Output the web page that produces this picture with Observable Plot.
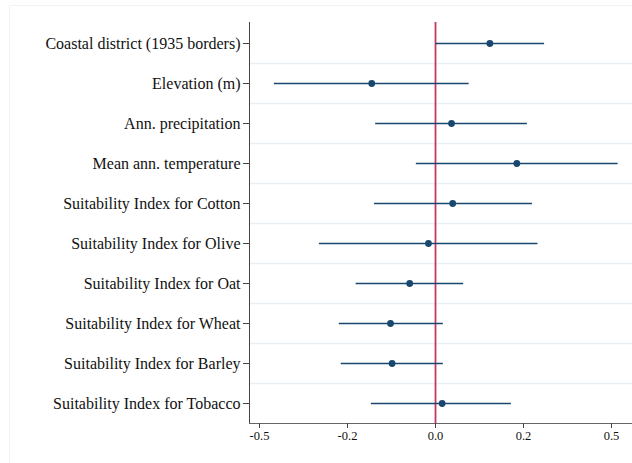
<!DOCTYPE html>
<html>
<head>
<meta charset="utf-8">
<script src="https://cdn.jsdelivr.net/npm/d3@7"></script>
<script src="https://cdn.jsdelivr.net/npm/@observablehq/plot@0.6"></script>
<style>
  html, body { margin: 0; padding: 0; background: #fff; }
  #wrap { position: relative; width: 632px; height: 463px; overflow: hidden; }
  #border { position: absolute; left: 9px; top: 5px; width: 640px; height: 470px; border: 1.5px solid #eef3f3; box-sizing: border-box; }
  #chart { position: absolute; left: 0; top: 0; }
</style>
</head>
<body>
<div id="wrap"><div id="border"></div><div id="chart"></div></div>
<script>
const variables = [
  "Coastal district (1935 borders)",
  "Elevation (m)",
  "Ann. precipitation",
  "Mean ann. temperature",
  "Suitability Index for Cotton",
  "Suitability Index for Olive",
  "Suitability Index for Oat",
  "Suitability Index for Wheat",
  "Suitability Index for Barley",
  "Suitability Index for Tobacco"
];
const estimates = [0.139, -0.163, 0.041, 0.208, 0.044, -0.018, -0.066, -0.115, -0.111, 0.017];
const ciLow  = [0.001, -0.412, -0.153, -0.049, -0.156, -0.297, -0.203, -0.246, -0.241, -0.164];
const ciHigh = [0.279, 0.086, 0.235, 0.467, 0.248, 0.262, 0.072, 0.020, 0.020, 0.194];
const tickValues = [-0.45, -0.225, 0, 0.225, 0.45];
const tickLabels = ["-0.5", "-0.2", "0.0", "0.2", "0.5"];
const xDomain = [-0.4756, 0.5037];

const data = variables.map((v, i) => ({name: v, est: estimates[i], lo: ciLow[i], hi: ciHigh[i]}));

const W = 632, H = 463, mt = 22, mb = 40, ml = 249, mr = 0;
const step = (H - mt - mb) / variables.length;
const labelOf = new Map(tickValues.map((t, i) => [t, tickLabels[i]]));

const navy = "#1a476f";
const chart = Plot.plot({
  width: W, height: H,
  marginTop: mt, marginBottom: mb, marginLeft: ml, marginRight: mr,
  style: {fontFamily: "'Liberation Serif', 'Times New Roman', serif", background: "transparent", color: "#111"},
  x: {domain: xDomain},
  y: {type: "band", domain: variables, padding: 0},
  marks: [
    Plot.ruleY(variables.slice(1), {y: d => d, dy: -step / 2, stroke: "#e9eff2", strokeWidth: 1.6}),
    Plot.ruleX([0], {stroke: "#c8375e", strokeWidth: 1.8}),
    Plot.ruleY(data, {y: "name", x1: "lo", x2: "hi", stroke: navy, strokeWidth: 1.4}),
    Plot.dot(data, {y: "name", x: "est", r: 3.4, fill: navy, stroke: "none"}),
    Plot.ruleX([xDomain[0]], {stroke: "#444", strokeWidth: 1}),
    Plot.frame({anchor: "bottom", stroke: "#666", strokeWidth: 1}),
    Plot.axisX({ticks: tickValues, tickFormat: d => labelOf.get(d), tickSize: 5, tickPadding: 3, fontSize: 12.5, label: null, stroke: "#444"}),
    Plot.axisY({tickSize: 6, tickPadding: 3, fontSize: 16, label: null, stroke: "#444"})
  ]
});
document.getElementById("chart").appendChild(chart);
</script>
</body>
</html>
